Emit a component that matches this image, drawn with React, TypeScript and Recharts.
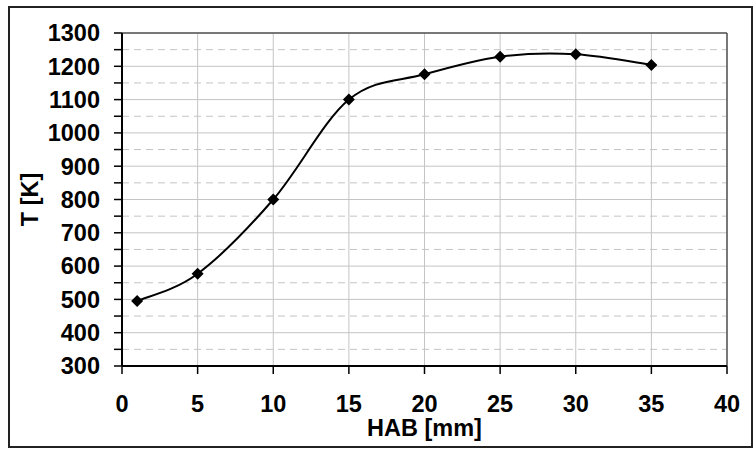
import React from 'react';
import {LineChart, Line, XAxis, YAxis, CartesianGrid, ReferenceLine, Label} from 'recharts';

const hab = [1, 5, 10, 15, 20, 25, 30, 35];
const temperature = [495, 577, 800, 1100, 1176, 1229, 1236, 1204];
const xTicks = [0, 5, 10, 15, 20, 25, 30, 35, 40];
const yTicks = [300, 350, 400, 450, 500, 550, 600, 650, 700, 750, 800, 850, 900, 950, 1000, 1050, 1100, 1150, 1200, 1250, 1300];

const data = hab.map((h, i) => ({hab: h, t: temperature[i]}));

const FONT = 'Liberation Sans, Arial, sans-serif';
const FS = 23.5;

// excel-like smooth line (catmull-rom through the points)
const smoothCurve: any = (ctx: any) => {
	let pts: number[][] = [];
	return {
		areaStart() {},
		areaEnd() {},
		lineStart() { pts = []; },
		point(x: number, y: number) { pts.push([+x, +y]); },
		lineEnd() {
			const n = pts.length;
			if (!n) return;
			ctx.moveTo(pts[0][0], pts[0][1]);
			for (let i = 0; i < n - 1; i++) {
				const p0 = pts[Math.max(i - 1, 0)];
				const p1 = pts[i];
				const p2 = pts[i + 1];
				const p3 = pts[Math.min(i + 2, n - 1)];
				ctx.bezierCurveTo(
					p1[0] + (p2[0] - p0[0]) / 6, p1[1] + (p2[1] - p0[1]) / 6,
					p2[0] - (p3[0] - p1[0]) / 6, p2[1] - (p3[1] - p1[1]) / 6,
					p2[0], p2[1]
				);
			}
		},
	};
};

const Diamond = (props: any) => {
	const {cx, cy} = props;
	if (cx == null || cy == null) return null;
	const r = 6;
	return <polygon points={`${cx},${cy - r} ${cx + r},${cy} ${cx},${cy + r} ${cx - r},${cy}`} fill="#000"/>;
};

const gridLine = (props: any) => {
	const {x1, y1, x2, y2, index} = props;
	return (
		<line key={`h-${index}`} x1={x1} y1={y1} x2={x2} y2={y2} stroke="#c4c4c4" strokeWidth={1}
			strokeDasharray={index % 2 === 1 ? '7 5' : undefined}/>
	);
};

const App = () => {
	return (
		<div style={{position: 'absolute', left: 8, top: 6, width: 745, height: 442, border: '2px solid #222', boxSizing: 'border-box', background: '#fff'}}>
			<LineChart width={741} height={438} data={data} margin={{top: 25, right: 24, bottom: 0, left: 0}}>
				<CartesianGrid horizontal={gridLine} vertical={{stroke: '#c4c4c4'}} stroke="#c4c4c4"/>
				<XAxis dataKey="hab" type="number" domain={[0, 40]} ticks={xTicks} height={80}
					axisLine={{stroke: '#000', strokeWidth: 2}} tickLine={{stroke: '#000', strokeWidth: 1.5}}
					tickSize={8} tickMargin={21}
					tick={{fill: '#000', fontSize: FS, fontWeight: 'bold', fontFamily: FONT}}>
					<Label content={(p: any) => {
						const vb = p.viewBox;
						return <text x={vb.x + vb.width / 2} y={vb.y + 62} textAnchor="middle" dominantBaseline="central"
							fontSize={FS} fontWeight="bold" fontFamily={FONT} fill="#000">HAB [mm]</text>;
					}}/>
				</XAxis>
				<YAxis type="number" domain={[300, 1300]} ticks={yTicks} width={112} interval={0}
					axisLine={{stroke: '#000', strokeWidth: 2}} tickLine={{stroke: '#000', strokeWidth: 1.5}}
					tickSize={8} tickMargin={14}
					tickFormatter={(v: number) => (v % 100 === 0 ? String(v) : '')}
					tick={{fill: '#000', fontSize: FS, fontWeight: 'bold', fontFamily: FONT}}>
					<Label content={(p: any) => {
						const vb = p.viewBox;
						const cx = 20;
						const cy = vb.y + vb.height / 2;
						return <text x={cx} y={cy} textAnchor="middle" dominantBaseline="central" transform={`rotate(-90 ${cx} ${cy})`}
							fontSize={FS} fontWeight="bold" fontFamily={FONT} fill="#000">T [K]</text>;
					}}/>
				</YAxis>
				<ReferenceLine y={1300} stroke="#555" strokeWidth={1.5}/>
				<ReferenceLine x={40} stroke="#555" strokeWidth={1.5}/>
				<Line dataKey="t" type={smoothCurve} stroke="#000" strokeWidth={2} dot={<Diamond/>}
					activeDot={false} isAnimationActive={false}/>
			</LineChart>
		</div>
	);
};

export default App;
